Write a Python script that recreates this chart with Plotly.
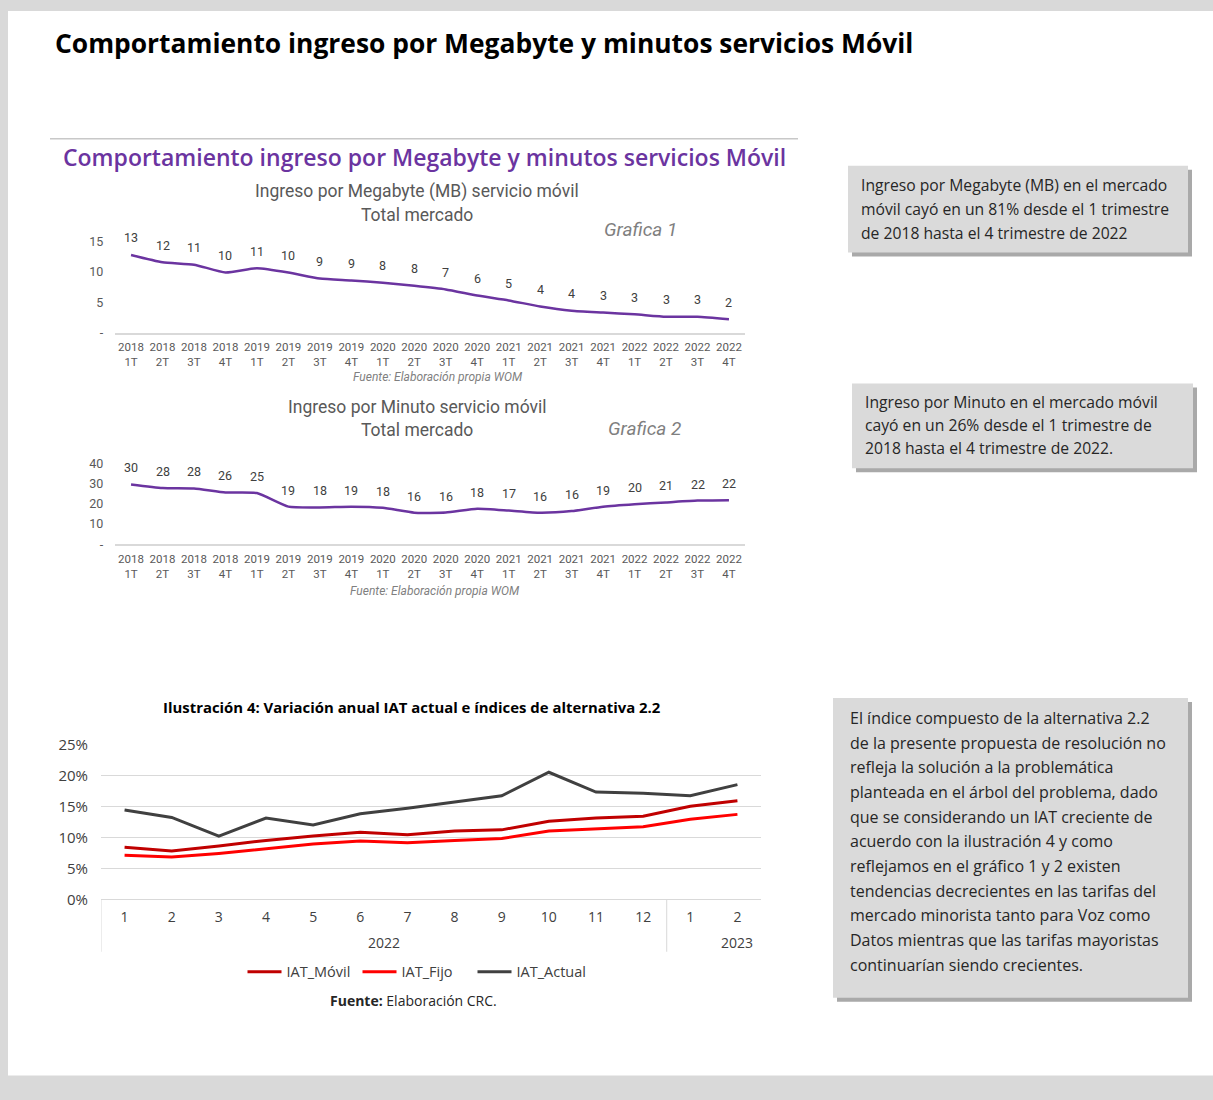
import plotly.graph_objects as go

W, H = 1213, 1100

def px(x):
    return x / W

def py(y):
    # vertical position in the picture -> paper fraction (compensates the vertical fit of the photo)
    return 1 - ((y - 9.1) / 0.983) / H

# ---------------- DATA ----------------
quarters = ["2018<br>1T", "2018<br>2T", "2018<br>3T", "2018<br>4T",
            "2019<br>1T", "2019<br>2T", "2019<br>3T", "2019<br>4T",
            "2020<br>1T", "2020<br>2T", "2020<br>3T", "2020<br>4T",
            "2021<br>1T", "2021<br>2T", "2021<br>3T", "2021<br>4T",
            "2022<br>1T", "2022<br>2T", "2022<br>3T", "2022<br>4T"]
ingreso_mb = [12.8, 11.6, 11.2, 9.9, 10.6, 9.9, 8.9, 8.6, 8.2, 7.7,
              7.1, 6.1, 5.3, 4.3, 3.6, 3.3, 3.0, 2.6, 2.6, 2.2]
ingreso_min = [29.6, 27.8, 27.6, 25.6, 25.3, 18.6, 18.2, 18.6, 18.0, 15.6,
               15.7, 17.6, 16.7, 15.6, 16.4, 18.6, 19.8, 20.7, 21.6, 21.8]

iat_years = ["2022"] * 12 + ["2023"] * 2
iat_months = ["1", "2", "3", "4", "5", "6", "7", "8", "9", "10", "11", "12", "1", "2"]
iat_movil = [8.5, 7.9, 8.7, 9.6, 10.3, 10.9, 10.5, 11.1, 11.3, 12.7, 13.2, 13.5, 15.1, 16.0]
iat_fijo = [7.2, 6.9, 7.5, 8.3, 9.0, 9.5, 9.2, 9.6, 9.9, 11.1, 11.5, 11.8, 13.0, 13.8]
iat_actual = [14.5, 13.3, 10.3, 13.2, 12.1, 13.9, 14.8, 15.8, 16.8, 20.6, 17.4, 17.2, 16.8, 18.6]

box1_lines = ["Ingreso por Megabyte (MB) en el mercado",
              "móvil cayó en un 81% desde el 1 trimestre",
              "de 2018 hasta el 4 trimestre de 2022"]
box2_lines = ["Ingreso por Minuto en el mercado móvil",
              "cayó en un 26% desde el 1 trimestre de",
              "2018 hasta el 4 trimestre de 2022."]
box3_lines = ["El índice compuesto de la alternativa 2.2",
              "de la presente propuesta de resolución no",
              "refleja la solución a la problemática",
              "planteada en el árbol del problema, dado",
              "que se considerando un IAT creciente de",
              "acuerdo con la ilustración 4 y como",
              "reflejamos en el gráfico 1 y 2 existen",
              "tendencias decrecientes en las tarifas del",
              "mercado minorista tanto para Voz como",
              "Datos mientras que las tarifas mayoristas",
              "continuarían siendo crecientes."]

PURPLE = "#6b34a0"
GRAY_T = "#595959"
F_COND = "Roboto"
F_BOX = "Open Sans"

fig = go.Figure()

# ---------------- Chart 1 ----------------
fig.add_trace(go.Scatter(x=quarters, y=ingreso_mb, mode="lines",
                         line=dict(color=PURPLE, width=2.5, shape="spline", smoothing=0.5),
                         xaxis="x", yaxis="y", showlegend=False, hoverinfo="skip"))
# ---------------- Chart 2 ----------------
fig.add_trace(go.Scatter(x=quarters, y=ingreso_min, mode="lines",
                         line=dict(color=PURPLE, width=2.5, shape="spline", smoothing=0.5),
                         xaxis="x2", yaxis="y2", showlegend=False, hoverinfo="skip"))
# ---------------- Chart 3 (month index on a linear axis, labelled by month) ----------------
idx = list(range(len(iat_months)))
fig.add_trace(go.Scatter(x=idx, y=iat_movil, mode="lines", name="IAT_Móvil",
                         line=dict(color="#c00000", width=3), xaxis="x3", yaxis="y3"))
fig.add_trace(go.Scatter(x=idx, y=iat_fijo, mode="lines", name="IAT_Fijo",
                         line=dict(color="#ff0000", width=3), xaxis="x3", yaxis="y3"))
fig.add_trace(go.Scatter(x=idx, y=iat_actual, mode="lines", name="IAT_Actual",
                         line=dict(color="#404040", width=3), xaxis="x3", yaxis="y3"))

ann = []
# data labels
for i, v in enumerate(ingreso_mb):
    ann.append(dict(x=quarters[i], y=v, xref="x", yref="y", text=f"{v:.0f}", showarrow=False,
                    yshift=17, font=dict(family=F_COND, size=12.5, color="#404040")))
for i, v in enumerate(ingreso_min):
    ann.append(dict(x=quarters[i], y=v, xref="x2", yref="y2", text=f"{v:.0f}", showarrow=False,
                    yshift=16.5, font=dict(family=F_COND, size=12.5, color="#404040")))

def txt(x, y, text, size, color, family, xanchor="center", **kw):
    ann.append(dict(x=px(x), y=py(y), xref="paper", yref="paper", text=text, showarrow=False,
                    xanchor=xanchor, yanchor="middle", font=dict(family=family, size=size, color=color, **kw)))

txt(53, 41, "Comportamiento ingreso por Megabyte y minutos servicios Móvil", 26.4, "#000000", F_BOX,
    xanchor="left", weight="bold")
txt(424, 155, "Comportamiento ingreso por Megabyte y minutos servicios Móvil", 23, PURPLE, F_BOX,
    weight=600)
txt(417, 190, "Ingreso por Megabyte (MB) servicio móvil", 17.5, GRAY_T, F_COND)
txt(417, 213, "Total mercado", 17.5, GRAY_T, F_COND)
txt(640, 228, "Grafica 1", 19, "#7f7f7f", F_COND, style="italic")
txt(438, 376, "Fuente: Elaboración propia WOM", 12, "#7f7f7f", F_COND, style="italic")
txt(417, 406, "Ingreso por Minuto servicio móvil", 17.5, GRAY_T, F_COND)
txt(417, 429, "Total mercado", 17.5, GRAY_T, F_COND)
txt(644, 427, "Grafica 2", 19, "#7f7f7f", F_COND, style="italic")
txt(435, 590, "Fuente: Elaboración propia WOM", 12, "#7f7f7f", F_COND, style="italic")
txt(412, 706, "Ilustración 4: Variación anual IAT actual e índices de alternativa 2.2", 14.9, "#000000",
    F_BOX, weight="bold")
txt(413, 1000, "<b>Fuente:</b> Elaboración CRC.", 14, "#262626", F_BOX)

for k, line in enumerate(box1_lines):
    txt(859, 183 + k * 24, line, 15.7, "#262626", F_BOX, xanchor="left")
for k, line in enumerate(box2_lines):
    txt(863, 401 + k * 23, line, 15.7, "#262626", F_BOX, xanchor="left")
for k, line in enumerate(box3_lines):
    txt(848, 717 + k * 24.7, line, 16, "#262626", F_BOX, xanchor="left")

# year group labels of chart 3 (placed under their months)
YEAR_POS = {"2022": 5.5, "2023": 13}
for yr in dict.fromkeys(iat_years):
    ann.append(dict(x=YEAR_POS[yr], y=py(942), xref="x3", yref="paper", text=yr, showarrow=False,
                    yanchor="middle", font=dict(family=F_BOX, size=14, color="#404040")))

shapes = []
# white page
shapes.append(dict(type="rect", xref="paper", yref="paper", x0=px(8), x1=1, y0=py(1075), y1=1,
                   fillcolor="white", line=dict(width=0), layer="below"))
# thin line above purple title
shapes.append(dict(type="line", xref="paper", yref="paper", x0=px(50), x1=px(798), y0=py(137), y1=py(137),
                   line=dict(color="#c8c8c8", width=1.5), layer="below"))
# dividers of the month / year axis
year_change = [i for i in range(1, len(iat_years)) if iat_years[i] != iat_years[i - 1]]
for xd in [-0.5] + [c - 0.5 for c in year_change]:
    shapes.append(dict(type="line", xref="x3", yref="paper", x0=xd, x1=xd, y0=py(899), y1=py(951),
                       line=dict(color="#d9d9d9", width=1)))

def box(x0, y0, x1, y1):
    shapes.append(dict(type="rect", xref="paper", yref="paper", x0=px(x0 + 4), x1=px(x1 + 4),
                       y0=py(y1 + 4), y1=py(y0 + 4), fillcolor="#a9a9a9", line=dict(width=0), layer="below"))
    shapes.append(dict(type="rect", xref="paper", yref="paper", x0=px(x0), x1=px(x1),
                       y0=py(y1), y1=py(y0), fillcolor="#dadada", line=dict(width=0), layer="below"))

box(848, 164, 1188, 251)
box(852, 382, 1193, 467)
box(833, 697, 1188, 997)

tickfont_q = dict(family=F_COND, size=11.5, color=GRAY_T)
ytickfont = dict(family=F_COND, size=12.5, color=GRAY_T)

fig.update_layout(
    width=W, height=H, margin=dict(l=0, r=0, t=0, b=0),
    paper_bgcolor="#d9d9d9", plot_bgcolor="rgba(0,0,0,0)",
    annotations=ann, shapes=shapes,
    xaxis=dict(domain=[px(115.3), px(744.7)], anchor="y", type="category", range=[-0.5, 19.5],
               showline=True, linecolor="#d9d9d9", linewidth=1.5, showgrid=False, ticks="",
               tickfont=tickfont_q, tickangle=0, ticklabelstandoff=3),
    yaxis=dict(domain=[py(331), py(228)], anchor="x", range=[0, 103 / 6.067],
               tickvals=[0, 5, 10, 15], ticktext=["-", "5", "10", "15"], showgrid=False,
               zeroline=False, showline=False, ticks="", tickfont=ytickfont, ticklabelstandoff=11),
    xaxis2=dict(domain=[px(115.3), px(744.7)], anchor="y2", type="category", range=[-0.5, 19.5],
                showline=True, linecolor="#d9d9d9", linewidth=1.5, showgrid=False, ticks="",
                tickfont=tickfont_q, tickangle=0, ticklabelstandoff=3),
    yaxis2=dict(domain=[py(543), py(452)], anchor="x2", range=[0, 91 / 2.025],
                tickvals=[0, 10, 20, 30, 40], ticktext=["-", "10", "20", "30", "40"], showgrid=False,
                zeroline=False, showline=False, ticks="", tickfont=ytickfont, ticklabelstandoff=11),
    xaxis3=dict(domain=[px(101), px(761)], anchor="y3", range=[-0.5, len(idx) - 0.5],
                tickvals=idx, ticktext=iat_months, showgrid=False, zeroline=False,
                ticks="", tickfont=dict(family=F_BOX, size=14, color="#404040"), ticklabelstandoff=7),
    yaxis3=dict(domain=[py(899), py(744)], anchor="x3", range=[0, 25], dtick=5, ticksuffix="%",
                showgrid=True, gridcolor="#d9d9d9", gridwidth=1, zeroline=True, zerolinecolor="#d9d9d9",
                zerolinewidth=1, ticks="", tickfont=dict(family=F_BOX, size=15, color="#404040"),
                ticklabelstandoff=12),
    legend=dict(orientation="h", x=px(415), xanchor="center", y=py(971), yanchor="middle",
                font=dict(family=F_BOX, size=14.5, color="#404040"), bgcolor="rgba(0,0,0,0)",
                itemwidth=34, entrywidth=66),
)

fig.write_html("out.html", config={"displayModeBar": False},
               post_script="document.body.style.margin='0';")
